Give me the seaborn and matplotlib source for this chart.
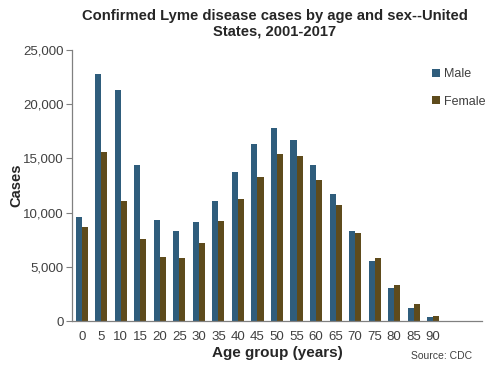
import matplotlib
matplotlib.use("Agg")
import matplotlib.pyplot as plt
import numpy as np
import pandas as pd
import seaborn as sns

# data
age_groups = ["0", "5", "10", "15", "20", "25", "30", "35", "40", "45",
              "50", "55", "60", "65", "70", "75", "80", "85", "90"]
male = [9630, 22800, 21300, 14400, 9320, 8270, 9100, 11100, 13700, 16300,
        17800, 16700, 14400, 11700, 8300, 5560, 3060, 1240, 370]
female = [8700, 15600, 11100, 7560, 5870, 5800, 7200, 9230, 11270, 13300,
          15400, 15200, 13000, 10700, 8100, 5800, 3330, 1550, 500]

df = pd.DataFrame({
    "age": age_groups * 2,
    "cases": male + female,
    "sex": ["Male"] * len(male) + ["Female"] * len(female),
})

sns.set_style("white")
plt.rcParams["font.family"] = ["Liberation Sans", "DejaVu Sans"]

fig = plt.figure(figsize=(4.97, 3.70), dpi=100)
ax = fig.add_axes([72 / 497, 1 - 321 / 370, 410 / 497, 271 / 370])

sns.barplot(data=df, x="age", y="cases", hue="sex", order=age_groups,
            palette={"Male": "#2f5d7c", "Female": "#5e4b1c"},
            width=0.62, gap=0, saturation=1, linewidth=0, ax=ax)

ax.set_xlim(-0.5, 20.5)
ax.set_ylim(0, 25000)
ax.set_yticks(np.arange(0, 25001, 5000))
ax.yaxis.set_major_formatter(matplotlib.ticker.FuncFormatter(lambda v, p: f"{int(v):,}"))

for s in ["top", "right"]:
    ax.spines[s].set_visible(False)
for s in ["left", "bottom"]:
    ax.spines[s].set_color("#808080")
    ax.spines[s].set_linewidth(0.9)

ax.tick_params(axis="y", left=True, length=4, color="#808080", labelsize=9.5,
               labelcolor="#404040", pad=2)
ax.tick_params(axis="x", bottom=False, labelsize=9.5, labelcolor="#404040", pad=4)

ax.set_xlabel("Age group (years)", fontsize=11, fontweight="bold", labelpad=2)
ax.set_ylabel("Cases", fontsize=10.5, fontweight="bold", labelpad=0)

ax.legend(loc="upper right", bbox_to_anchor=(1.035, 0.975), frameon=False,
          fontsize=9, handlelength=0.6, handleheight=0.6, handletextpad=0.3,
          labelspacing=1.25, labelcolor="#404040")

fig.text(0.553, 0.975, "Confirmed Lyme disease cases by age and sex--United\nStates, 2001-2017",
         ha="center", va="top", fontsize=10.6, fontweight="bold", linespacing=1.1)
fig.text(0.95, 0.025, "Source: CDC", ha="right", va="bottom", fontsize=7.5,
         color="#404040")

fig.savefig("out.png", dpi=100)
